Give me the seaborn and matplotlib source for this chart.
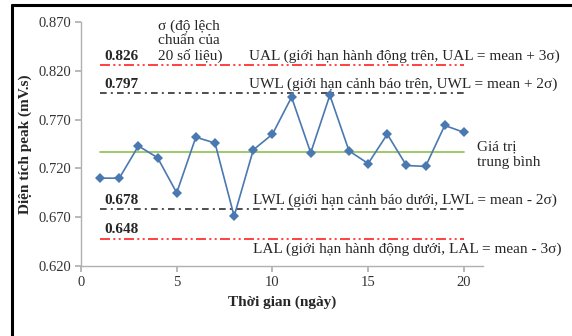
import matplotlib
matplotlib.use("Agg")
import matplotlib.pyplot as plt
import seaborn as sns
import pandas as pd
from matplotlib.lines import Line2D

days = list(range(1, 21))
peak_area = [0.710, 0.710, 0.743, 0.731, 0.695, 0.752, 0.746, 0.671, 0.739, 0.755,
             0.793, 0.736, 0.795, 0.738, 0.725, 0.755, 0.723, 0.722, 0.764, 0.757]
mean_value = 0.737
limit_values = [0.826, 0.797, 0.678, 0.648]
limit_names = ["UAL", "UWL", "LWL", "LAL"]
limit_texts = [
    "UAL (giới hạn hành động trên, UAL = mean + 3σ)",
    "UWL (giới hạn cảnh báo trên, UWL = mean + 2σ)",
    "LWL (giới hạn cảnh báo dưới, LWL = mean - 2σ)",
    "LAL (giới hạn hành động dưới, LAL = mean - 3σ)",
]
yticks = [0.620, 0.670, 0.720, 0.770, 0.820, 0.870]
xticks = [0, 5, 10, 15, 20]

sns.set_theme(style="white")
plt.rcParams['font.family'] = ['Liberation Serif', 'DejaVu Serif']

fig = plt.figure(figsize=(5.72, 3.36), dpi=100)
ax = fig.add_axes([0.1416, 0.2083, 0.7028, 0.7262])

df = pd.DataFrame({"day": days, "area": peak_area})
sns.lineplot(data=df, x="day", y="area", ax=ax, color="#4a78b0", linewidth=1.2,
             marker="D", markersize=5, markeredgewidth=0, zorder=5)

# mean line
ax.plot([days[0], days[-1]], [mean_value, mean_value], color="#8cc152", lw=1.2, zorder=3)

styles = {
    "UAL": dict(color="#ff2020", dashes=(6, 2, 1.2, 2, 1.2, 2)),
    "UWL": dict(color="#303030", dashes=(4, 2.5, 1.2, 2.5)),
    "LWL": dict(color="#303030", dashes=(4, 2.5, 1.2, 2.5)),
    "LAL": dict(color="#ff2020", dashes=(6, 2, 1.2, 2, 1.2, 2)),
}
for name, val in zip(limit_names, limit_values):
    st = styles[name]
    ax.plot([days[0], days[-1]], [val, val], color=st["color"], lw=1.2,
            dashes=st["dashes"], zorder=3)

fs = 10.5
fa = 11
# value labels
for val in limit_values:
    ax.text(1.2, val + 0.0025, f"{val:.3f}", fontsize=fa, fontweight="bold", va="bottom")

# descriptive labels
ax.text(8.8, limit_values[0] + 0.0025, limit_texts[0], fontsize=fa, va="bottom")
ax.text(8.8, limit_values[1] + 0.0025, limit_texts[1], fontsize=fa, va="bottom")
ax.text(9.0, limit_values[2] + 0.0025, limit_texts[2], fontsize=fa, va="bottom")
ax.text(9.0, limit_values[3] - 0.004, limit_texts[3], fontsize=fa, va="top")
ax.text(4.0, limit_values[0] + 0.0025, "σ (độ lệch\nchuẩn của\n20 số liệu)", fontsize=fa,
        va="bottom", linespacing=1.1)
ax.text(20.7, mean_value - 0.003, "Giá trị\ntrung bình", fontsize=fa, va="center",
        linespacing=1.35, clip_on=False)

ax.set_xlim(0, 21)
ax.set_ylim(0.620, 0.870)
ax.set_xticks(xticks)
ax.set_yticks(yticks)
ax.set_yticklabels([f"{v:.3f}" for v in yticks])
ax.tick_params(axis="both", labelsize=fs, colors="#404040", length=4, direction="out",
               left=True, bottom=True, color="#b0b0b0", pad=3)
for lab in ax.get_xticklabels() + ax.get_yticklabels():
    lab.set_color("#333333")
ax.set_xlabel("Thời gian (ngày)", fontsize=fa, fontweight="bold", labelpad=5)
ax.set_ylabel("Diện tích peak (mV.s)", fontsize=fa, fontweight="bold", labelpad=5)
for s in ["top", "right"]:
    ax.spines[s].set_visible(False)
for s in ["left", "bottom"]:
    ax.spines[s].set_color("#b0b0b0")
    ax.spines[s].set_linewidth(1.0)

# outer frame (left and top)
fig.add_artist(Line2D([12/572, 12/572], [0, 1 - 4.5/336], transform=fig.transFigure,
                      color="black", lw=2.2))
fig.add_artist(Line2D([12/572, 1], [1 - 4.5/336, 1 - 4.5/336], transform=fig.transFigure,
                      color="black", lw=2.2))

fig.savefig("out.png", dpi=100)
